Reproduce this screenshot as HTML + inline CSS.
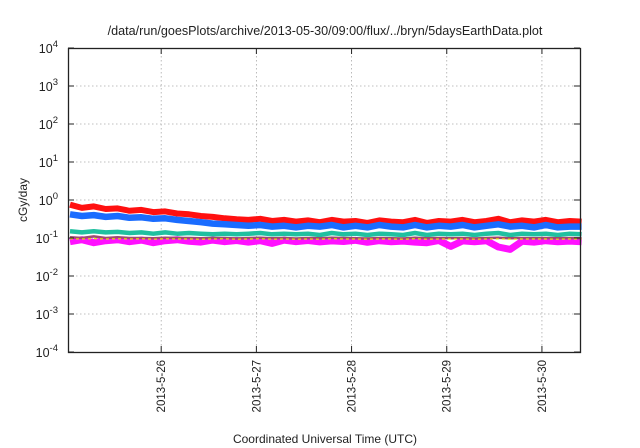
<!DOCTYPE html>
<html><head><meta charset="utf-8"><style>
body{margin:0;background:#fff}
svg{display:block;font-family:"Liberation Sans",sans-serif}
</style></head><body>
<svg id="chart" width="640" height="448" viewBox="0 0 640 448">
<rect width="640" height="448" fill="#fff"/>
<text x="325" y="35" font-size="12.6" text-anchor="middle" fill="#222">/data/run/goesPlots/archive/2013-05-30/09:00/flux/../bryn/5daysEarthData.plot</text>
<g id="grid"></g>
<g id="series"></g>
<rect x="68.5" y="48.5" width="512" height="304" fill="none" stroke="#222" stroke-width="1.3"/>
<g id="axes"></g>
<text transform="translate(27,200) rotate(-90)" font-size="12" text-anchor="middle" fill="#222">cGy/day</text>
<text x="325" y="443" font-size="12" text-anchor="middle" fill="#222">Coordinated Universal Time (UTC)</text>
</svg>
<script>
const xTickLabels=["2013-5-26","2013-5-27","2013-5-28","2013-5-29","2013-5-30"];
const xTickHours=[0,24,48,72,96];
const yTickExps=[-4,-3,-2,-1,0,1,2,3,4];
const hours=[-23,-20,-17,-14,-11,-8,-5,-2,1,4,7,10,13,16,19,22,25,28,31,34,37,40,43,46,49,52,55,58,61,64,67,70,73,76,79,82,85,88,91,94,97,100,103,106];
const redVals=[0.75,0.62,0.68,0.58,0.6,0.52,0.55,0.48,0.5,0.44,0.42,0.38,0.36,0.33,0.31,0.3,0.32,0.28,0.3,0.27,0.29,0.26,0.3,0.27,0.28,0.25,0.29,0.27,0.26,0.3,0.25,0.28,0.27,0.3,0.26,0.28,0.32,0.26,0.29,0.27,0.3,0.26,0.28,0.27];
const blueVals=[0.42,0.38,0.4,0.36,0.38,0.34,0.35,0.32,0.33,0.3,0.28,0.26,0.24,0.23,0.22,0.21,0.22,0.2,0.21,0.19,0.21,0.2,0.22,0.19,0.21,0.19,0.22,0.2,0.19,0.22,0.19,0.21,0.2,0.22,0.19,0.21,0.23,0.2,0.21,0.19,0.22,0.19,0.2,0.2];
const greenVals=[0.15,0.14,0.15,0.14,0.145,0.135,0.14,0.13,0.14,0.13,0.135,0.13,0.125,0.13,0.125,0.13,0.135,0.125,0.13,0.125,0.13,0.12,0.135,0.125,0.13,0.12,0.13,0.125,0.12,0.135,0.12,0.13,0.125,0.13,0.12,0.13,0.135,0.12,0.13,0.125,0.13,0.12,0.13,0.125];
const brownVals=[0.105,0.1,0.11,0.1,0.105,0.1,0.1,0.098,0.102,0.1,0.1,0.098,0.1,0.1,0.097,0.1,0.102,0.098,0.1,0.097,0.1,0.098,0.102,0.1,0.099,0.097,0.1,0.099,0.097,0.101,0.098,0.1,0.099,0.1,0.097,0.1,0.102,0.098,0.1,0.099,0.1,0.098,0.1,0.099];
const yellowVals=[0.095,0.094,0.096,0.094,0.095,0.094,0.095,0.093,0.095,0.094,0.094,0.093,0.094,0.095,0.093,0.094,0.095,0.093,0.094,0.093,0.094,0.093,0.095,0.094,0.094,0.093,0.094,0.094,0.093,0.095,0.093,0.094,0.094,0.094,0.093,0.094,0.095,0.093,0.094,0.094,0.094,0.093,0.094,0.094];
const magentaVals=[0.08,0.09,0.075,0.085,0.09,0.08,0.088,0.075,0.085,0.09,0.082,0.078,0.088,0.08,0.086,0.078,0.085,0.072,0.088,0.08,0.086,0.079,0.084,0.081,0.087,0.077,0.085,0.08,0.083,0.078,0.075,0.086,0.06,0.084,0.08,0.085,0.058,0.05,0.082,0.078,0.085,0.08,0.083,0.08];
const NS="http://www.w3.org/2000/svg";
const X0=68,X1=580,Y0=48,Y1=352,H0=-23.5,H1=105.6;
function xs(h){return X0+(h-H0)/(H1-H0)*(X1-X0);}
function ys(v){return Y1-(Math.log10(v)+4)/8*(Y1-Y0);}
function mk(tag,attrs,parent){const e=document.createElementNS(NS,tag);for(const k in attrs)e.setAttribute(k,attrs[k]);parent.appendChild(e);return e;}
const grid=document.getElementById('grid'),axes=document.getElementById('axes'),ser=document.getElementById('series');
yTickExps.forEach(p=>{
  const y=ys(Math.pow(10,p));
  if(p>-4&&p<4){const g=mk('line',{x1:X0,x2:X1,y1:y,y2:y,stroke:'#aaa','stroke-dasharray':'1.5,2.5','stroke-width':0.8},grid);
  }
  const t1=mk('line',{x1:X0,x2:X0+6,y1:y,y2:y,stroke:'#222'},axes);
  
  const t2=mk('line',{x1:X1-6,x2:X1,y1:y,y2:y,stroke:'#222'},axes);
  
  const tx=mk('text',{x:X0-10,y:y+5,'font-size':12.5,'text-anchor':'end',fill:'#222'},axes);
  
  tx.appendChild(document.createTextNode('10'));
  const sp=mk('tspan',{dy:-6,'font-size':9.5},tx);sp.textContent=String(p);
});
xTickHours.forEach((h,i)=>{
  const x=xs(h);
  const g=mk('line',{x1:x,x2:x,y1:Y0,y2:Y1,stroke:'#aaa','stroke-dasharray':'1.5,2.5','stroke-width':0.8},grid);
  
  const t1=mk('line',{x1:x,x2:x,y1:Y1-6,y2:Y1,stroke:'#222'},axes);
  
  const t2=mk('line',{x1:x,x2:x,y1:Y0,y2:Y0+6,stroke:'#222'},axes);
  
  const tx=mk('text',{transform:`translate(${x+4},360) rotate(-90)`,'font-size':11.5,'text-anchor':'end',fill:'#222'},axes);
  
  tx.textContent=xTickLabels[i];
});
function line(vals,color,w,name,dash){
  const d=vals.map((v,i)=>(i?'L':'M')+xs(hours[i]).toFixed(1)+','+ys(v).toFixed(1)).join('');
  const p=mk('path',{d:d,fill:'none',stroke:color,'stroke-width':w,'stroke-linejoin':'round'},ser);
  if(dash)p.setAttribute('stroke-dasharray',dash);
  
}
line(redVals,'#ff1010',6,'series-red');
line(blueVals,'#1a6cff',6.5,'series-blue');
line(greenVals,'#20c0a0',4.5,'series-green');
line(magentaVals,'#ff10ff',7,'series-magenta');
line(brownVals,'#a04870',2.5,'series-brown');
line(yellowVals,'#e8e000',1.2,'series-yellow','3,3');
</script>
</body></html>
